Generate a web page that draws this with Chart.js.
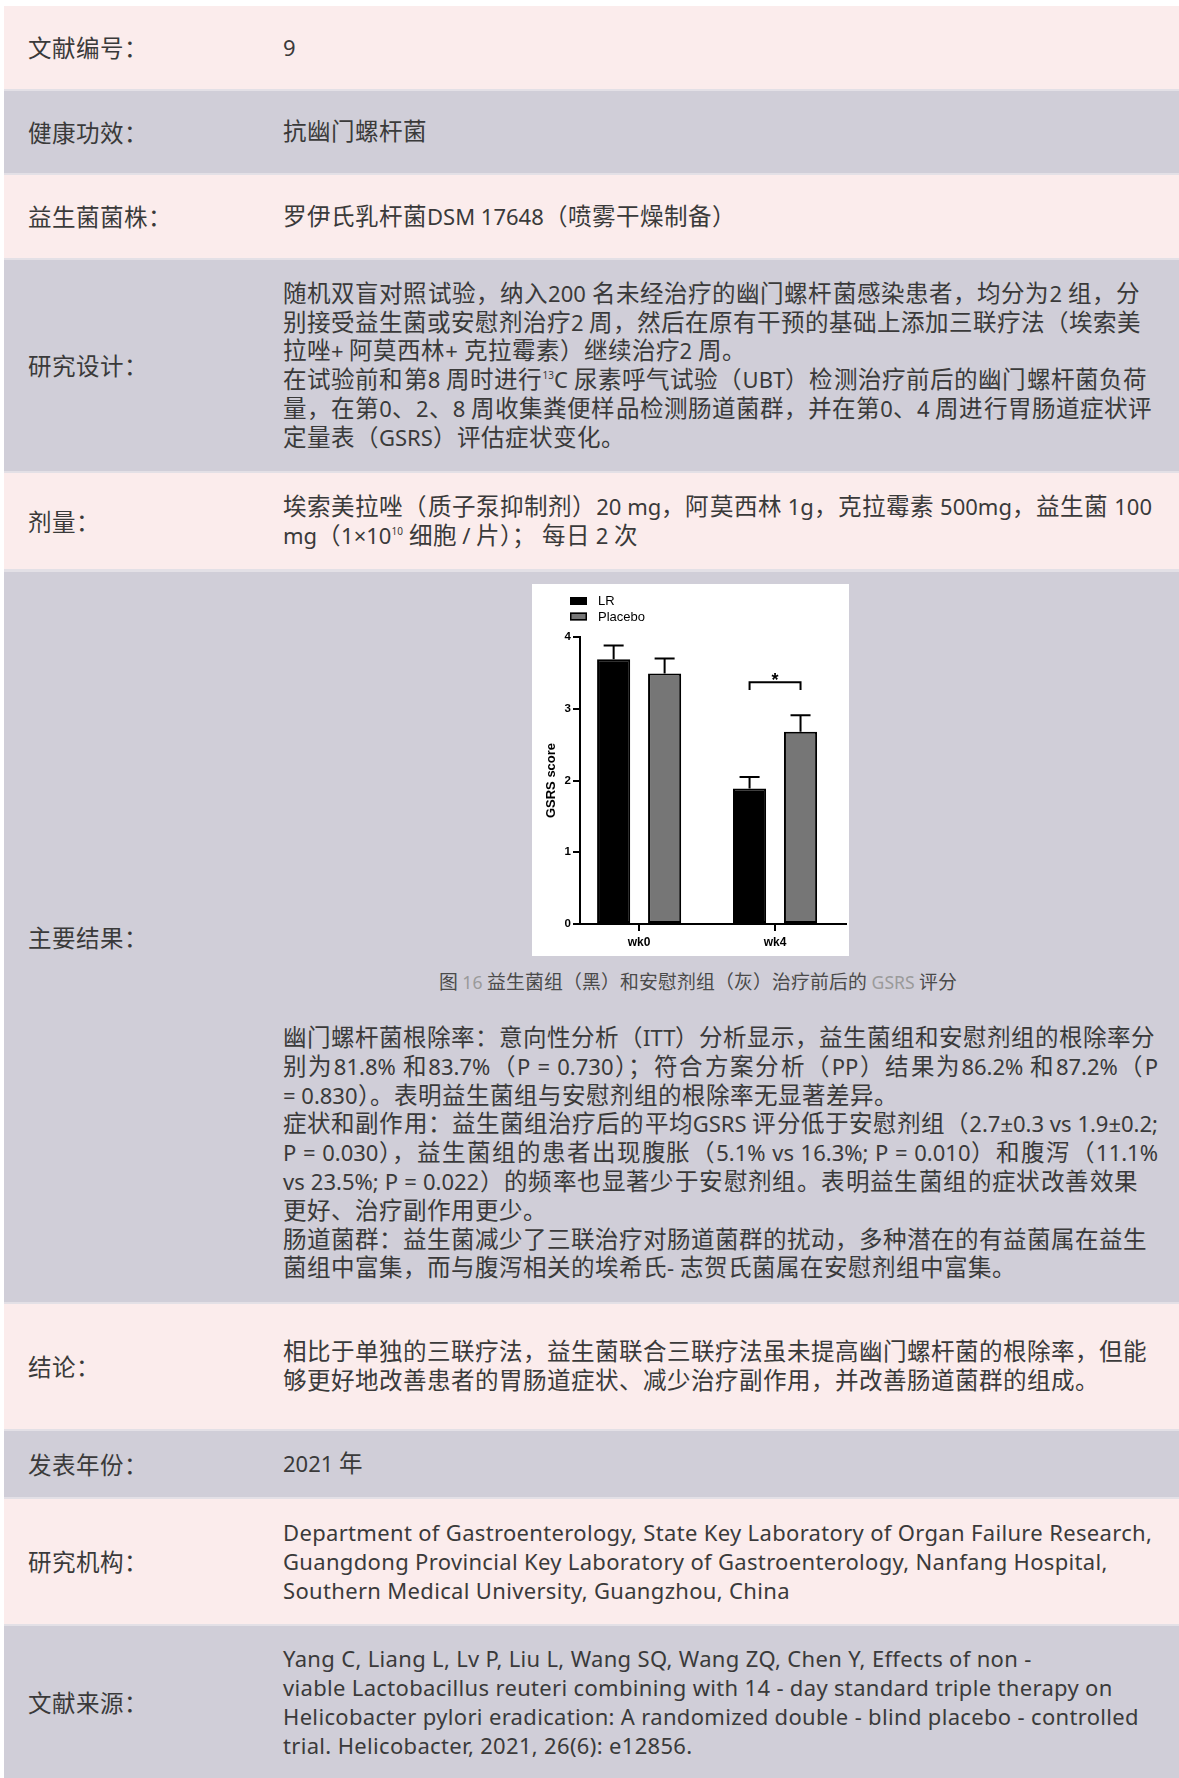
<!DOCTYPE html>
<html><head><meta charset="utf-8">
<script src="https://cdn.jsdelivr.net/npm/chart.js@4.4.1/dist/chart.umd.min.js"></script>
<style>
@font-face{font-family:"CJKBig";src:local("Noto Sans CJK SC"),local("Noto Sans CJK SC Regular"),local("NotoSansCJKsc-Regular"),local("NotoSansCJKSC-Regular");size-adjust:107%;unicode-range:U+2E80-9FFF,U+F900-FFFF;}
html,body{margin:0;padding:0;background:#fff;}
body{width:1179px;height:1778px;position:relative;overflow:hidden;font-family:"Noto Sans","CJKBig","Noto Sans CJK SC",sans-serif;color:#3a3a3a;font-size:22px;}
#bg{position:absolute;left:4px;top:6px;right:0;bottom:0;background:#e3e0e6;}
.row{position:absolute;left:4px;right:0;}
.pink{background:#fbecec;}
.gray{background:#d0ced8;}
.label{position:absolute;left:24px;top:0;bottom:0;display:flex;align-items:center;}
.val{position:absolute;left:279px;top:0;bottom:0;display:flex;flex-direction:column;justify-content:center;}
.ln{height:28.8px;line-height:28.8px;white-space:nowrap;}
.en{letter-spacing:0.33px;}
.j{text-align:justify;text-align-last:justify;}
sup{font-size:10px;line-height:0;vertical-align:9px;}
#chartBox{position:absolute;left:528px;top:12.5px;width:317px;height:372px;background:#fff;}
#cap{position:absolute;left:394px;width:600px;text-align:center;top:396px;font-size:17.6px;color:#4a4a4a;line-height:28px;}
#cap .lt{color:#9a9a9a;}
#txt{position:absolute;left:279px;top:451.5px;}
</style></head>
<body>
<div id="bg"></div>
<div class="row pink" style="top:6px;height:82.5px"><div class="label">文献编号：</div><div class="val"><div class="ln">9</div></div></div>
<div class="row gray" style="top:91px;height:81.5px"><div class="label">健康功效：</div><div class="val"><div class="ln">抗幽门螺杆菌</div></div></div>
<div class="row pink" style="top:175px;height:82.5px"><div class="label">益生菌菌株：</div><div class="val"><div class="ln">罗伊氏乳杆菌DSM 17648（喷雾干燥制备）</div></div></div>
<div class="row gray" style="top:260px;height:210.5px"><div class="label">研究设计：</div><div class="val">
<div class="ln j" style="width:857px">随机双盲对照试验，纳入200 名未经治疗的幽门螺杆菌感染患者，均分为2 组，分</div>
<div class="ln j" style="width:857px">别接受益生菌或安慰剂治疗2 周，然后在原有干预的基础上添加三联疗法（埃索美</div>
<div class="ln">拉唑+ 阿莫西林+ 克拉霉素）继续治疗2 周。</div>
<div class="ln j" style="width:864px">在试验前和第8 周时进行<sup>13</sup>C 尿素呼气试验（UBT）检测治疗前后的幽门螺杆菌负荷</div>
<div class="ln j" style="width:869px">量，在第0、2、8 周收集粪便样品检测肠道菌群，并在第0、4 周进行胃肠道症状评</div>
<div class="ln">定量表（GSRS）评估症状变化。</div>
</div></div>
<div class="row pink" style="top:473px;height:96px"><div class="label">剂量：</div><div class="val">
<div class="ln j" style="width:869px">埃索美拉唑（质子泵抑制剂）20 mg，阿莫西林 1g，克拉霉素 500mg，益生菌 100</div>
<div class="ln">mg（1×10<sup>10</sup> 细胞 / 片）； 每日 2 次</div>
</div></div>
<div class="row gray" style="top:571.5px;height:730px"><div class="label">主要结果：</div>
<div id="chartBox"><canvas id="c" width="317" height="372"></canvas></div>
<div id="cap">图 <span class="lt">16</span> 益生菌组（黑）和安慰剂组（灰）治疗前后的 <span class="lt">GSRS</span> 评分</div>
<div id="txt">
<div class="ln j" style="width:872px">幽门螺杆菌根除率：意向性分析（ITT）分析显示，益生菌组和安慰剂组的根除率分</div>
<div class="ln j" style="width:875px">别为81.8% 和83.7%（P = 0.730）；符合方案分析（PP）结果为86.2% 和87.2%（P</div>
<div class="ln">= 0.830）。表明益生菌组与安慰剂组的根除率无显著差异。</div>
<div class="ln j" style="width:875px">症状和副作用：益生菌组治疗后的平均GSRS 评分低于安慰剂组（2.7±0.3 vs 1.9±0.2;</div>
<div class="ln j" style="width:875px">P = 0.030），益生菌组的患者出现腹胀（5.1% vs 16.3%; P = 0.010）和腹泻（11.1%</div>
<div class="ln j" style="width:855px">vs 23.5%; P = 0.022）的频率也显著少于安慰剂组。表明益生菌组的症状改善效果</div>
<div class="ln">更好、治疗副作用更少。</div>
<div class="ln j" style="width:862px">肠道菌群：益生菌减少了三联治疗对肠道菌群的扰动，多种潜在的有益菌属在益生</div>
<div class="ln">菌组中富集，而与腹泻相关的埃希氏- 志贺氏菌属在安慰剂组中富集。</div>
</div>
</div>
<div class="row pink" style="top:1304px;height:124.5px"><div class="label">结论：</div><div class="val">
<div class="ln j" style="width:862px">相比于单独的三联疗法，益生菌联合三联疗法虽未提高幽门螺杆菌的根除率，但能</div>
<div class="ln">够更好地改善患者的胃肠道症状、减少治疗副作用，并改善肠道菌群的组成。</div>
</div></div>
<div class="row gray" style="top:1431px;height:65.5px"><div class="label">发表年份：</div><div class="val"><div class="ln">2021 年</div></div></div>
<div class="row pink" style="top:1499px;height:124.5px"><div class="label">研究机构：</div><div class="val">
<div class="ln en">Department of Gastroenterology, State Key Laboratory of Organ Failure Research,</div>
<div class="ln en">Guangdong Provincial Key Laboratory of Gastroenterology, Nanfang Hospital,</div>
<div class="ln en">Southern Medical University, Guangzhou, China</div>
</div></div>
<div class="row gray" style="top:1626px;height:152px"><div class="label">文献来源：</div><div class="val">
<div class="ln en">Yang C, Liang L, Lv P, Liu L, Wang SQ, Wang ZQ, Chen Y, Effects of non -</div>
<div class="ln en">viable Lactobacillus reuteri combining with 14 - day standard triple therapy on</div>
<div class="ln en">Helicobacter pylori eradication: A randomized double - blind placebo - controlled</div>
<div class="ln en">trial. Helicobacter, 2021, 26(6): e12856.</div>
</div></div>

<script>
// ---- chart data ----
const categories = ['wk0', 'wk4'];
const categoryPositions = [0, 1];
const seriesNames = ['LR', 'Placebo'];
const lrMeans = [3.69, 1.89];
const lrErrors = [0.19, 0.16];
const placeboMeans = [3.49, 2.68];
const placeboErrors = [0.21, 0.23];
const yTickValues = [0, 1, 2, 3, 4];
const yAxisTitle = 'GSRS score';
const sigCategory = 1;
const sigLevel = 3.37;
const sigDrop = 0.11;
const sigMark = '*';

const seriesFill = ['#000000', '#767676'];
const axisFont = 'Liberation Sans, Arial, sans-serif';

function toPoints(means) { return categoryPositions.map((x, i) => ({ x: x, y: means[i] })); }

const overlay = {
  id: 'overlay',
  afterDatasetsDraw(chart) {
    const ctx = chart.ctx;
    const ys = chart.scales.y;
    ctx.save();
    ctx.strokeStyle = '#000';
    ctx.lineWidth = 2;
    chart.data.datasets.forEach((ds, di) => {
      const meta = chart.getDatasetMeta(di);
      meta.data.forEach((bar, i) => {
        const v = ds.data[i].y;
        const top = ys.getPixelForValue(v + ds.errors[i]);
        const base = ys.getPixelForValue(v);
        ctx.beginPath();
        ctx.moveTo(bar.x, base); ctx.lineTo(bar.x, top);
        ctx.moveTo(bar.x - 10, top); ctx.lineTo(bar.x + 10, top);
        ctx.stroke();
      });
    });
    // significance bracket
    const a = chart.getDatasetMeta(0).data[sigCategory];
    const b = chart.getDatasetMeta(1).data[sigCategory];
    const yl = ys.getPixelForValue(sigLevel);
    const yd = ys.getPixelForValue(sigLevel - sigDrop);
    ctx.beginPath();
    ctx.moveTo(a.x, yd); ctx.lineTo(a.x, yl); ctx.lineTo(b.x, yl); ctx.lineTo(b.x, yd);
    ctx.stroke();
    ctx.fillStyle = '#000';
    ctx.font = 'bold 18px ' + axisFont;
    ctx.textAlign = 'center';
    ctx.textBaseline = 'alphabetic';
    ctx.fillText(sigMark, (a.x + b.x) / 2, yl + 4);
    // legend
    ctx.font = '13px ' + axisFont;
    ctx.textAlign = 'left';
    ctx.textBaseline = 'middle';
    chart.data.datasets.forEach((ds, di) => {
      const by = 13 + di * 15.5;
      ctx.fillStyle = ds.backgroundColor;
      ctx.fillRect(38, by, 17, 8);
      ctx.lineWidth = 1.5;
      ctx.strokeRect(38.75, by + 0.75, 15.5, 6.5);
      ctx.fillStyle = '#000';
      ctx.fillText(ds.label, 66, by + 4.5);
    });
    ctx.restore();
  }
};

new Chart(document.getElementById('c'), {
  type: 'bar',
  data: {
    datasets: [
      { label: seriesNames[0], data: toPoints(lrMeans), errors: lrErrors, backgroundColor: seriesFill[0], borderColor: '#000', borderWidth: 2, borderSkipped: false },
      { label: seriesNames[1], data: toPoints(placeboMeans), errors: placeboErrors, backgroundColor: seriesFill[1], borderColor: '#000', borderWidth: 2, borderSkipped: false }
    ]
  },
  options: {
    responsive: false,
    animation: false,
    devicePixelRatio: 1,
    categoryPercentage: 0.75,
    barPercentage: 0.65,
    layout: { padding: { top: 53, right: 3, left: 0, bottom: 0 } },
    plugins: { legend: { display: false }, tooltip: { enabled: false } },
    scales: {
      x: {
        type: 'linear',
        min: -0.435,
        max: 1.522,
        bounds: 'data',
        offset: false,
        afterBuildTicks: s => { s.ticks = categoryPositions.map(v => ({ value: v })); },
        afterFit: s => { s.height = 32; },
        ticks: {
          callback: (v, i) => categories[i],
          font: { family: axisFont, weight: 'bold', size: 12 },
          color: '#000', padding: 4, autoSkip: false, maxRotation: 0
        },
        grid: { offset: false, drawOnChartArea: false, drawTicks: true, tickLength: 7, color: '#000', lineWidth: 2 },
        border: { display: true, color: '#000', width: 2 }
      },
      y: {
        min: 0,
        max: 4,
        afterBuildTicks: s => { s.ticks = yTickValues.map(v => ({ value: v })); },
        afterFit: s => { s.width = 48; },
        ticks: { font: { family: axisFont, weight: 'bold', size: 11.5 }, color: '#000', padding: 2 },
        grid: { drawOnChartArea: false, drawTicks: true, tickLength: 7, color: '#000', lineWidth: 2 },
        border: { display: true, color: '#000', width: 2 },
        title: { display: true, text: yAxisTitle, color: '#000', font: { family: axisFont, weight: 'bold', size: 13 }, padding: { top: 12, bottom: 0 } }
      }
    }
  },
  plugins: [overlay]
});
</script>
</body></html>
